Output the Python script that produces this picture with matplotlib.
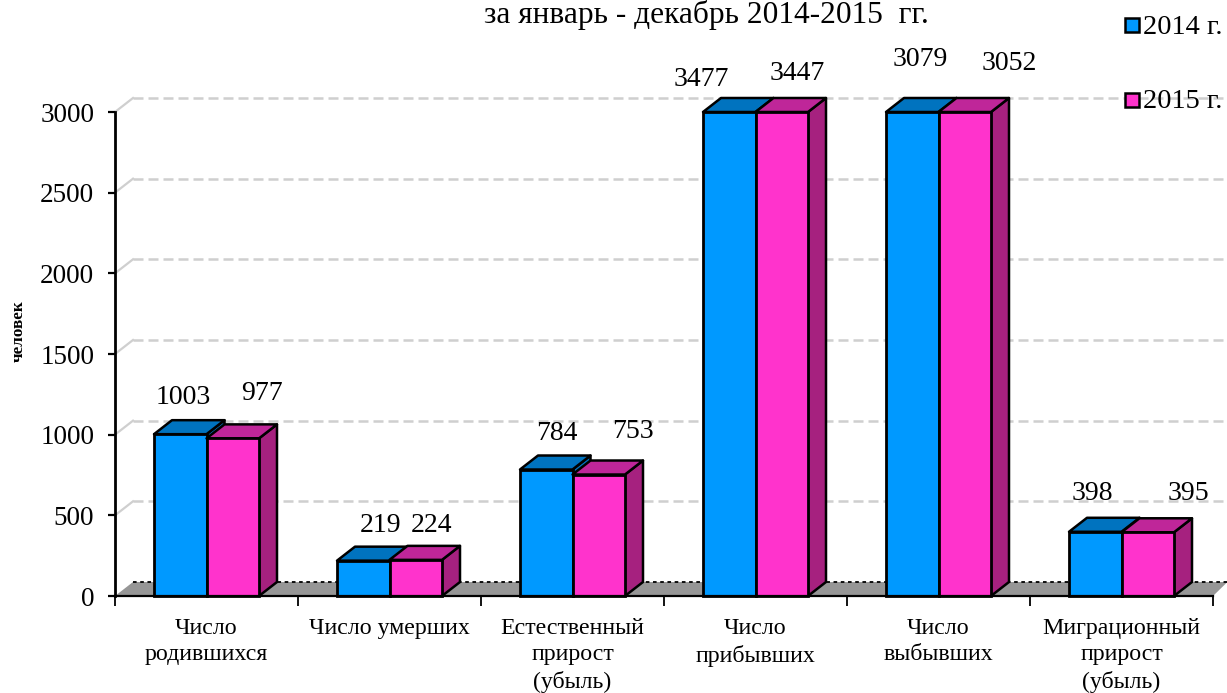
import matplotlib
matplotlib.use('Agg')
import matplotlib.pyplot as plt
from matplotlib.patches import Polygon, Rectangle

plt.rcParams['font.family'] = ['Liberation Serif', 'DejaVu Serif']

categories = ['Число\nродившихся', 'Число умерших', 'Естественный\nприрост\n(убыль)',
              'Число\nприбывших', 'Число\nвыбывших', 'Миграционный\nприрост\n(убыль)']
values_2014 = [1003, 219, 784, 3477, 3079, 398]
values_2015 = [977, 224, 753, 3447, 3052, 395]
yticks = [0, 500, 1000, 1500, 2000, 2500, 3000]
title = 'за январь - декабрь 2014-2015  гг.'
ylabel = 'человек'

# label positions in pixels of the picture, the labels are not tied to the bars
pos_2014 = [(183, 398), (381, 526), (557, 433), (701, 80), (920, 60), (1092, 494)]
pos_2015 = [(262, 394), (432, 525), (633, 432), (797, 73), (1009, 63), (1188, 493)]

W, H = 1227, 693
YMAX = 3000
DX = 18 / 183.0
DY = 14 / 484.0 * YMAX
BW = 52.5 / 183.0

fig = plt.figure(figsize=(W / 100.0, H / 100.0), dpi=100)
ax = fig.add_axes([115.0 / W, 1 - 596.0 / H, 1098.0 / W, 484.0 / H])
ax.set_xlim(0, 6)
ax.set_ylim(0, YMAX)
ax.patch.set_visible(False)

# floor
ax.add_patch(Polygon([(0, 0), (DX, DY), (6 + DX * 0.8, DY), (6, 0)], closed=True, fc='#969696', ec='none',
                     clip_on=False, zorder=1))
ax.plot([DX, 6 + DX * 0.8], [DY, DY], c='black', lw=1.3, ls=(0, (2, 2)), clip_on=False, zorder=1.5)

# back grid
for t in yticks[1:]:
    ax.plot([0, DX], [t, t + DY], c='#cfcfcf', lw=1.6, clip_on=False, zorder=1)
    ax.plot([DX, 6.08], [t + DY, t + DY], c='#cfcfcf', lw=1.8, ls=(0, (4, 2)), clip_on=False, zorder=1)


def bar3d(x, v, front, top, side, z):
    v = min(v, YMAX)
    ax.add_patch(Polygon([(x + BW, 0), (x + BW + DX, DY), (x + BW + DX, v + DY), (x + BW, v)], closed=True,
                         fc=side, ec='black', lw=1.8, joinstyle='round', clip_on=False, zorder=z))
    ax.add_patch(Polygon([(x, v), (x + DX, v + DY), (x + BW + DX, v + DY), (x + BW, v)], closed=True,
                         fc=top, ec='black', lw=1.8, joinstyle='round', clip_on=False, zorder=z))
    ax.add_patch(Rectangle((x, 0), BW, v, fc=front, ec='black', lw=2, clip_on=False, zorder=z + 0.1))


for i in range(len(categories)):
    c = i + 0.5
    bar3d(c - BW, values_2014[i], '#0099ff', '#0073bf', '#0073bf', 2 + i)
    bar3d(c, values_2015[i], '#ff33cc', '#bf2699', '#a6217f', 2.5 + i)

for spine in ['top', 'right']:
    ax.spines[spine].set_visible(False)
ax.spines['left'].set_linewidth(2)
ax.spines['bottom'].set_linewidth(1.6)
ax.spines['bottom'].set_zorder(20)

ax.set_yticks(yticks)
ax.set_yticklabels([str(t) for t in yticks], fontsize=19.5)
ax.tick_params(axis='y', length=5, width=1.6, pad=10)
ax.set_xticks(range(7))
ax.set_xticklabels([])
ax.tick_params(axis='x', length=7, width=1.3, direction='out')

for i, name in enumerate(categories):
    ax.annotate(name, (i + 0.5, 0), xytext=(0, -22), textcoords='offset pixels', ha='center', va='top',
                fontsize=17.2, linespacing=1.33)

for vals, pos in [(values_2014, pos_2014), (values_2015, pos_2015)]:
    for v, (px, py) in zip(vals, pos):
        fig.text(px / W, 1 - py / H, str(v), ha='center', va='center', fontsize=20, zorder=30)

fig.text(706.0 / W, 1 - 15.0 / H, title, ha='center', va='center', fontsize=22.6)
fig.text(19.0 / W, 1 - 331.0 / H, ylabel, rotation=90, ha='center', va='center', fontsize=12.3, fontweight='bold')

# legend
for name, col, py, ty in [('2014 г.', '#0099ff', 25, 27), ('2015 г.', '#ff33cc', 100, 102)]:
    fig.add_artist(Rectangle((1125.0 / W, 1 - (py + 7.0) / H), 14.0 / W, 14.0 / H, fc=col, ec='black', lw=1.8,
                             transform=fig.transFigure))
    fig.text(1143.0 / W, 1 - ty / H, name, ha='left', va='center', fontsize=20.4)

fig.savefig('out.png', dpi=100)
